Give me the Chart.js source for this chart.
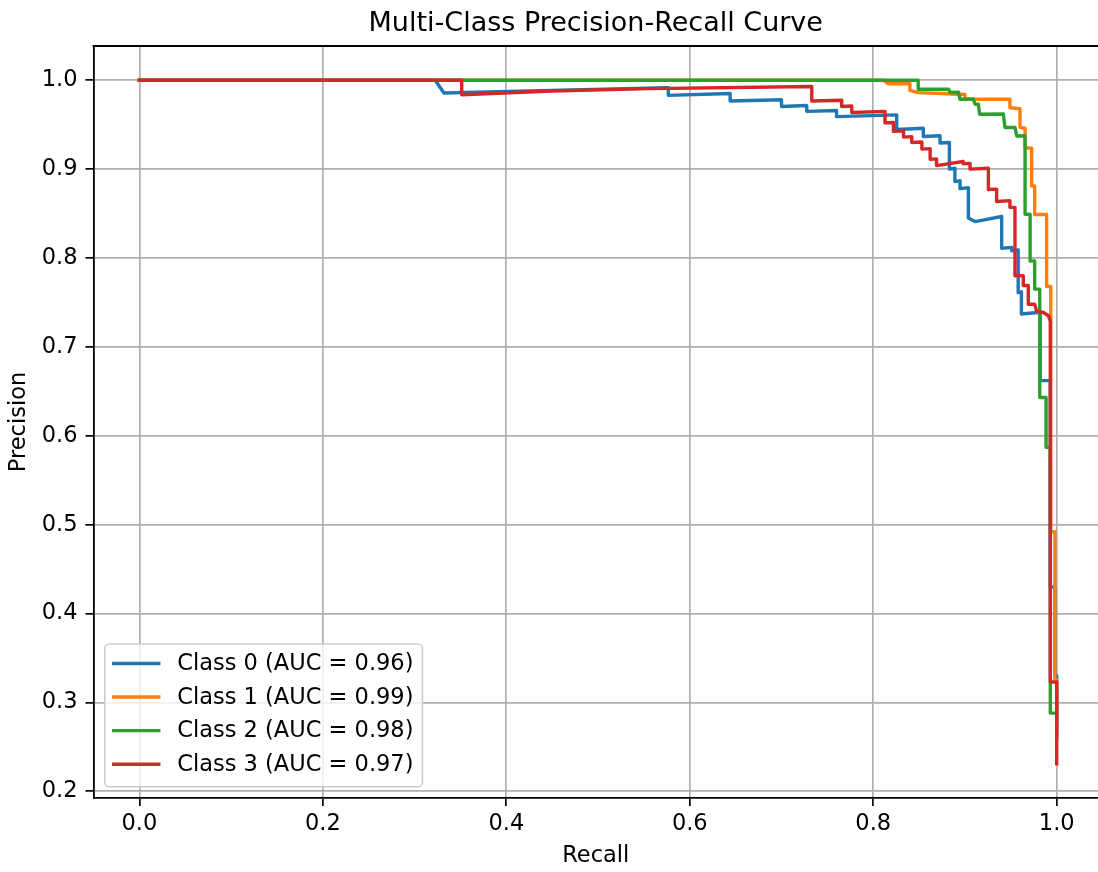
<!DOCTYPE html>
<html>
<head>
<meta charset="utf-8">
<style>
  html, body { margin: 0; padding: 0; background: #ffffff; }
  #wrap { width: 1098px; height: 872px; }
</style>
<script src="https://cdn.jsdelivr.net/npm/chart.js@4.4.1/dist/chart.umd.min.js"></script>
</head>
<body>
<div id="wrap"><canvas id="pr" width="1098" height="872"></canvas></div>
<script>
// Per-class precision-recall curves (recall on x, precision on y)
const classNames = ['Class 0', 'Class 1', 'Class 2', 'Class 3'];
const aucValues = [0.96, 0.99, 0.98, 0.97];
const lineColors = ['#1f77b4', '#ff7f0e', '#2ca02c', '#d62728'];

const xTickValues = [0.0, 0.2, 0.4, 0.6, 0.8, 1.0];
const yTickValues = [0.2, 0.3, 0.4, 0.5, 0.6, 0.7, 0.8, 0.9, 1.0];

const recall0 = [0.0, 0.3225, 0.332, 0.5766, 0.5766, 0.644, 0.644, 0.700, 0.700, 0.7275, 0.7275, 0.760, 0.760,
  0.8256, 0.8256, 0.8546, 0.8546, 0.8728, 0.8728, 0.883, 0.883, 0.889, 0.889, 0.8946, 0.8946, 0.9037, 0.9037,
  0.911, 0.940, 0.940, 0.951, 0.951, 0.958, 0.958, 0.9615, 0.9615, 0.982, 0.982, 0.993, 0.993, 0.998, 0.998, 1.0, 1.0];
const precision0 = [1.0, 1.0, 0.9856, 0.9917, 0.983, 0.985, 0.9767, 0.978, 0.9705, 0.9715, 0.965, 0.966, 0.959,
  0.961, 0.9445, 0.946, 0.9367, 0.9375, 0.9293, 0.930, 0.900, 0.901, 0.886, 0.887, 0.878, 0.879, 0.845,
  0.841, 0.8467, 0.811, 0.812, 0.808, 0.809, 0.761, 0.762, 0.737, 0.739, 0.662, 0.662, 0.430, 0.430, 0.330, 0.330, 0.260];

const recall1 = [0.0, 0.811, 0.8165, 0.840, 0.840, 0.849, 0.900, 0.900, 0.949, 0.949, 0.960, 0.960, 0.9655, 0.9655,
  0.9727, 0.9727, 0.976, 0.976, 0.989, 0.989, 0.9935, 0.9935, 0.998, 0.998, 1.0, 1.0];
const precision1 = [1.0, 1.0, 0.996, 0.996, 0.9885, 0.986, 0.984, 0.9786, 0.9786, 0.969, 0.968, 0.947, 0.946, 0.924,
  0.9235, 0.881, 0.881, 0.849, 0.849, 0.768, 0.768, 0.492, 0.492, 0.325, 0.325, 0.270];

const recall2 = [0.0, 0.849, 0.849, 0.882, 0.884, 0.8928, 0.8946, 0.909, 0.911, 0.9146, 0.916, 0.9418, 0.9436,
  0.9545, 0.9564, 0.9655, 0.9655, 0.971, 0.971, 0.976, 0.976, 0.9815, 0.9815, 0.9884, 0.9884, 0.993, 0.993, 1.0];
const precision2 = [1.0, 1.0, 0.9899, 0.990, 0.9862, 0.9865, 0.9786, 0.979, 0.973, 0.973, 0.9618, 0.962, 0.9468,
  0.947, 0.9373, 0.9375, 0.8493, 0.8493, 0.7967, 0.7967, 0.765, 0.765, 0.643, 0.643, 0.587, 0.587, 0.288, 0.288];

const recall3 = [0.0, 0.3514, 0.3514, 0.45, 0.5566, 0.733, 0.733, 0.7656, 0.7656, 0.7766, 0.7766, 0.8128, 0.8128,
  0.822, 0.822, 0.833, 0.833, 0.842, 0.842, 0.853, 0.853, 0.862, 0.862, 0.869, 0.869, 0.898, 0.898, 0.9055, 0.9055,
  0.9255, 0.9255, 0.9345, 0.9345, 0.949, 0.949, 0.9545, 0.9545, 0.9636, 0.9636, 0.969, 0.969, 0.976, 0.978, 0.9855,
  0.991, 0.993, 0.993, 1.0, 1.0];
const precision3 = [1.0, 1.0, 0.9837, 0.9878, 0.9905, 0.9929, 0.9767, 0.9775, 0.9705, 0.971, 0.9637, 0.965, 0.952,
  0.9525, 0.9424, 0.943, 0.936, 0.9365, 0.930, 0.9305, 0.9225, 0.923, 0.911, 0.9115, 0.904, 0.9086, 0.906, 0.9065, 0.900,
  0.901, 0.877, 0.8775, 0.8636, 0.8645, 0.857, 0.857, 0.780, 0.780, 0.769, 0.769, 0.748, 0.748, 0.7405, 0.7387,
  0.735, 0.729, 0.323, 0.323, 0.231];

const recallSeries = [recall0, recall1, recall2, recall3];
const precisionSeries = [precision0, precision1, precision2, precision3];

const FONT = "'DejaVu Sans', 'Liberation Sans', sans-serif";
const BASE = 22.5;
const CURVE_WIDTH = 3.4;

Chart.defaults.color = '#000000';
Chart.defaults.font.family = FONT;

const datasets = classNames.map((name, i) => ({
  label: `${name} (AUC = ${aucValues[i].toFixed(2)})`,
  data: recallSeries[i].map((r, k) => ({ x: r, y: precisionSeries[i][k] })),
  borderColor: lineColors[i],
  backgroundColor: lineColors[i],
  borderWidth: CURVE_WIDTH,
  pointRadius: 0,
  tension: 0,
  fill: false,
  borderCapStyle: 'square',
  borderJoinStyle: 'round',
  order: classNames.length - 1 - i   // later classes painted on top
}));

// Frame line along the top edge and the boxed legend in the lower-left corner
const framePlugin = {
  id: 'frameAndLegend',
  afterDraw(chart) {
    const ctx = chart.ctx;
    const area = chart.chartArea;
    ctx.save();
    ctx.strokeStyle = '#000000';
    ctx.lineWidth = 1.8;
    ctx.beginPath();
    ctx.moveTo(area.left - 0.9, area.top);
    ctx.lineTo(area.right, area.top);
    ctx.stroke();

    const items = chart.data.datasets;
    ctx.font = `${BASE}px ${FONT}`;
    const textW = Math.max(...items.map(d => ctx.measureText(d.label).width));
    const pad = 9, handleLen = 45, handleGap = 18.5;
    const boxLeft = area.left + 11.25;
    const boxBottom = area.bottom - 11.25;
    const boxH = 142.7;
    const boxTop = boxBottom - boxH;
    const boxW = pad + handleLen + handleGap + textW + pad;

    ctx.beginPath();
    if (ctx.roundRect) ctx.roundRect(boxLeft, boxTop, boxW, boxH, 4.5);
    else ctx.rect(boxLeft, boxTop, boxW, boxH);
    ctx.fillStyle = 'rgba(255,255,255,0.8)';
    ctx.fill();
    ctx.strokeStyle = '#cccccc';
    ctx.lineWidth = 1.6;
    ctx.stroke();

    items.forEach((d, i) => {
      const cy = boxTop + 19.4 + i * 33.6;
      ctx.beginPath();
      ctx.strokeStyle = d.borderColor;
      ctx.lineWidth = CURVE_WIDTH;
      ctx.lineCap = 'square';
      ctx.moveTo(boxLeft + pad, cy);
      ctx.lineTo(boxLeft + pad + handleLen, cy);
      ctx.stroke();
      ctx.fillStyle = '#000000';
      ctx.textAlign = 'left';
      ctx.textBaseline = 'middle';
      ctx.fillText(d.label, boxLeft + pad + handleLen + handleGap, cy + 1);
    });
    ctx.restore();
  }
};

new Chart(document.getElementById('pr'), {
  type: 'line',
  data: { datasets },
  options: {
    responsive: false,
    devicePixelRatio: 1,
    animation: false,
    events: [],
    layout: { padding: 0 },
    plugins: {
      legend: { display: false },
      tooltip: { enabled: false },
      title: {
        display: true,
        fullSize: false,
        text: 'Multi-Class Precision-Recall Curve',
        color: '#000000',
        font: { family: FONT, size: 27, weight: 'normal', lineHeight: 1.2 },
        padding: { top: 7.6, bottom: 6 }
      }
    },
    scales: {
      x: {
        type: 'linear',
        min: -0.05,
        max: 1.045,
        afterBuildTicks: s => { s.ticks = xTickValues.map(v => ({ value: v })); },
        afterFit: s => { s.height = 74; },
        ticks: {
          callback: v => Number(v).toFixed(1),
          font: { family: FONT, size: BASE },
          color: '#000000',
          padding: 5,
          maxRotation: 0,
          autoSkip: false
        },
        grid: { color: '#b0b0b0', lineWidth: 1.7, tickColor: '#000000', tickLength: 8, tickWidth: 1.7 },
        border: { display: true, color: '#000000', width: 1.8 },
        title: {
          display: true,
          text: 'Recall',
          color: '#000000',
          font: { family: FONT, size: BASE, lineHeight: 1.2 },
          padding: { top: 0, bottom: 2.3 }
        }
      },
      y: {
        type: 'linear',
        min: 0.1925,
        max: 1.0385,
        afterBuildTicks: s => { s.ticks = yTickValues.map(v => ({ value: v })); },
        afterFit: s => { s.width = 93.5; },
        ticks: {
          callback: v => Number(v).toFixed(1),
          font: { family: FONT, size: BASE },
          color: '#000000',
          padding: 8,
          autoSkip: false
        },
        grid: { color: '#b0b0b0', lineWidth: 1.7, tickColor: '#000000', tickLength: 8, tickWidth: 1.7 },
        border: { display: true, color: '#000000', width: 1.8 },
        title: {
          display: true,
          text: 'Precision',
          color: '#000000',
          font: { family: FONT, size: BASE, lineHeight: 1.2 },
          padding: { top: 5.7, bottom: 0 }
        }
      }
    }
  },
  plugins: [framePlugin]
});
</script>
</body>
</html>
